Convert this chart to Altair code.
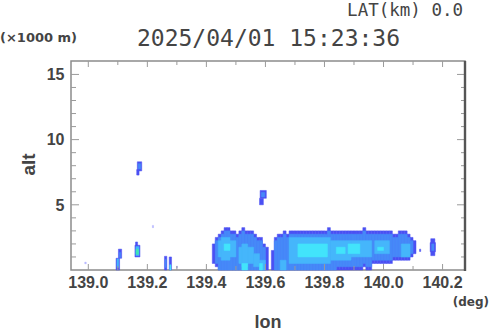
import altair as alt
import pandas as pd

# ---------------- data ----------------
# Blob A (left echo), one column every 0.01 deg: outer band and inner band
A_lon = [139.42, 139.43, 139.44, 139.45, 139.46, 139.47, 139.48, 139.49, 139.50, 139.51,
         139.52, 139.53, 139.54, 139.55, 139.56, 139.57, 139.58, 139.59, 139.60]
A_top = [2.0, 2.5, 2.75, 3.0, 3.25, 3.25, 3.0, 3.0, 2.75, 3.0,
         3.25, 3.0, 3.0, 3.0, 2.75, 2.5, 2.5, 2.0, 1.75]
A_bot = [0.5, 0.25, 0, 0, 0, 0, 0, 0, 0, 0,
         0, 0, 0, 0, 0, 0, 0, 0, 0]
A_in_top = [0.5, 2.25, 2.5, 2.75, 3.0, 3.0, 2.75, 2.75, 2.5, 2.75,
            3.0, 2.75, 2.75, 2.75, 2.5, 2.25, 2.25, 1.75, 0]
A_in_bot = [0.5, 0.5, 0, 0, 0, 0, 0, 0, 0, 0,
            0, 0, 0, 0, 0, 0, 0, 0, 0]

# Blob B (long echo) 139.62 .. 140.10
B_lon = [139.62, 139.63, 139.64, 139.65, 139.66, 139.67, 139.68, 139.69, 139.70, 139.71,
         139.72, 139.73, 139.74, 139.75, 139.76, 139.77, 139.78, 139.79, 139.80, 139.81,
         139.82, 139.83, 139.84, 139.85, 139.86, 139.87, 139.88, 139.89, 139.90, 139.91,
         139.92, 139.93, 139.94, 139.95, 139.96, 139.97, 139.98, 139.99, 140.00, 140.01,
         140.02, 140.03, 140.04, 140.05, 140.06, 140.07, 140.08, 140.09, 140.10]
B_top = [1.5, 2.5, 2.75, 2.75, 3.0, 2.75, 3.0, 3.0, 3.0, 3.0,
         3.0, 3.0, 3.0, 3.0, 3.0, 3.0, 3.0, 3.0, 3.0, 3.25,
         3.0, 3.0, 3.0, 3.0, 3.0, 3.0, 3.0, 3.0, 3.0, 3.0,
         3.0, 3.25, 3.0, 3.0, 3.0, 3.0, 3.0, 3.0, 3.0, 3.0,
         3.0, 2.75, 2.75, 3.0, 3.0, 3.0, 2.75, 2.5, 2.25]
B_bot = [0, 0, 0, 0, 0, 0, 0, 0, 0, 0,
         0, 0, 0, 0, 0, 0, 0, 0, 0, 0,
         0, 0, 0, 0, 0, 0, 0, 0, 0, 0,
         0, 0.25, 0, 0, 0.5, 0.5, 0.5, 0.5, 0.5, 0.5,
         0.5, 0.75, 0.75, 0.75, 0.75, 0.75, 0.75, 1.0, 1.25]
B_in_top = [0, 2.25, 2.5, 2.5, 2.75, 2.5, 2.75, 2.75, 2.75, 2.75,
            2.75, 2.75, 2.75, 2.75, 2.75, 2.75, 2.75, 2.75, 2.75, 3.0,
            2.75, 2.75, 2.75, 2.75, 2.75, 2.75, 2.75, 2.75, 2.75, 2.75,
            2.75, 3.0, 2.75, 2.75, 2.75, 2.75, 2.75, 2.75, 2.75, 2.75,
            2.75, 2.5, 2.5, 2.75, 2.75, 2.75, 2.5, 2.25, 0]
B_in_bot = [0, 0, 0, 0, 0, 0, 0, 0, 0, 0,
            0, 0, 0, 0, 0, 0, 0, 0, 0, 0,
            0, 0, 0.25, 0.25, 0.25, 0.25, 0.25, 0.25, 0.25, 0.25,
            0.25, 0.5, 0.25, 0.25, 0.75, 0.75, 0.75, 0.75, 0.75, 0.75,
            0.75, 1.0, 1.0, 1.0, 1.0, 1.0, 1.0, 1.25, 0]

# Stronger-echo patches and isolated small echoes: lon0, lon1, alt0, alt1, level
P_lon0 = [139.44, 139.45, 139.46, 139.51, 139.52, 139.52, 139.56, 139.58, 139.58,
          139.65, 139.68, 139.82, 139.89, 139.97, 140.06,
          139.71, 139.84, 139.88, 139.98,
          140.160, 140.158, 140.163, 140.122,
          139.582, 139.580, 139.586,
          139.166, 139.164, 139.169,
          139.160, 139.158, 139.161, 139.162,
          139.102, 139.094, 139.105, 139.097,
          139.258, 139.260, 139.274, 139.276,
          139.217, 138.988, 139.299]
P_lon1 = [139.50, 139.48, 139.48, 139.56, 139.54, 139.54, 139.58, 139.60, 139.59,
          139.67, 139.82, 139.89, 139.96, 140.02, 140.09,
          139.81, 139.87, 139.92, 140.00,
          140.174, 140.176, 140.171, 140.126,
          139.603, 139.593, 139.598,
          139.181, 139.172, 139.178,
          139.167, 139.175, 139.172, 139.170,
          139.113, 139.106, 139.110, 139.103,
          139.266, 139.264, 139.282, 139.280,
          139.221, 138.993, 139.302]
P_alt0 = [1.0, 0.75, 1.5, 0.5, 0.25, 0.0, 0.25, 0.0, 0.0,
          0.0, 0.5, 0.75, 1.0, 1.25, 1.0,
          1.0, 1.25, 1.25, 1.5,
          1.1, 1.4, 1.5, 1.42,
          5.5, 5.0, 5.6,
          7.6, 7.28, 7.75,
          1.85, 1.0, 1.1, 1.2,
          0.9, 0.0, 0.95, 0.2,
          0.0, 0.2, 0.0, 0.0,
          3.25, 0.48, 0.15]
P_alt1 = [2.25, 2.5, 2.0, 1.75, 2.0, 0.5, 1.25, 0.75, 0.5,
          0.75, 2.5, 2.25, 2.25, 2.25, 2.0,
          2.0, 1.75, 2.0, 1.75,
          2.4, 2.1, 2.0, 1.6,
          6.1, 5.5, 5.95,
          8.3, 7.7, 8.15,
          2.15, 1.9, 1.8, 1.6,
          1.6, 0.9, 1.35, 0.85,
          1.05, 0.8, 1.0, 0.4,
          3.42, 0.6, 0.3]
P_level = [3, 3, 4, 3, 3, 4, 3, 3, 4,
           3, 3, 3, 3, 3, 3,
           4, 4, 4, 4,
           1, 1, 2, 1,
           1, 1, 2,
           1, 1, 2,
           1, 1, 3, 5,
           1, 1, 2, 3,
           1, 2, 1, 4,
           0, 0, 0]

level_colors = ["#b4b4ff", "#4b50f3", "#4689f8", "#45b6fb", "#42e4fb", "#3fe8b0"]

x_major = [139.0, 139.2, 139.4, 139.6, 139.8, 140.0, 140.2]
x_minor = [139.1, 139.3, 139.5, 139.7, 139.9, 140.1]
y_major = [5, 10, 15]
y_minor = [1, 2, 3, 4, 6, 7, 8, 9, 11, 12, 13, 14]

title_text = "2025/04/01 15:23:36"
lat_text = "LAT(km) 0.0"
unit_y_text = "(×1000 m)"
unit_x_text = "(deg)"
x_title = "lon"
y_title = "alt"

# ---------------- build the cell table ----------------
rows = []
for lon, b, t in zip(A_lon, A_bot, A_top):
    rows.append((lon, lon + 0.01, b, t, 1))
for lon, b, t in zip(B_lon, B_bot, B_top):
    rows.append((lon, lon + 0.01, b, t, 1))
for lon, b, t in zip(A_lon, A_in_bot, A_in_top):
    if t > b:
        rows.append((lon, lon + 0.01, b, t, 2))
for lon, b, t in zip(B_lon, B_in_bot, B_in_top):
    if t > b:
        rows.append((lon, lon + 0.01, b, t, 2))
for r in zip(P_lon0, P_lon1, P_alt0, P_alt1, P_level):
    rows.append(r)
cells = pd.DataFrame(rows, columns=["lon", "lon2", "alt", "alt2", "lvl"])
cells["order"] = range(len(cells))

W, H = 394, 209
OX, OY = 71, 61
xscale = alt.Scale(domain=[138.9414, 140.276], nice=False, zero=False)
yscale = alt.Scale(domain=[0, 16.03], nice=False, zero=False)
cscale = alt.Scale(domain=[0, 1, 2, 3, 4, 5], range=level_colors)

LABEL_FONT = "Liberation Sans"
GRAY = "#444444"

echo = alt.Chart(cells).mark_rect(strokeWidth=0.5).encode(
    x=alt.X("lon:Q", scale=xscale, axis=None),
    x2="lon2:Q",
    y=alt.Y("alt:Q", scale=yscale, axis=None),
    y2="alt2:Q",
    color=alt.Color("lvl:O", scale=cscale, legend=None),
    stroke=alt.Stroke("lvl:O", scale=cscale, legend=None),
    order=alt.Order("order:Q"),
)

TICK = "#9a9a9a"

def xticks(vals, y0, y1):
    return alt.Chart(pd.DataFrame({"v": vals})).mark_rule(color=TICK, strokeWidth=1).encode(
        x=alt.X("v:Q", scale=xscale, axis=None), y=alt.value(y0), y2=alt.value(y1))

def yticks(vals, x0, x1):
    return alt.Chart(pd.DataFrame({"v": vals})).mark_rule(color=TICK, strokeWidth=1).encode(
        y=alt.Y("v:Q", scale=yscale, axis=None), x=alt.value(x0), x2=alt.value(x1))

ticks = [
    xticks(x_major, H, H - 6), xticks(x_minor, H, H - 4),
    xticks(x_major, 0, 6), xticks(x_minor, 0, 4),
    yticks(y_major, 0, 8), yticks(y_minor, 0, 5),
    yticks(y_major, W, W - 8), yticks(y_minor, W, W - 4),
]

xlabels = alt.Chart(pd.DataFrame({"v": x_major})).mark_text(
    font=LABEL_FONT, fontSize=16, fontWeight="bold", color=GRAY, align="center", baseline="alphabetic"
).encode(x=alt.X("v:Q", scale=xscale, axis=None), y=alt.value(H + 18.3),
         text=alt.Text("v:Q", format=".1f"))

ylabels = alt.Chart(pd.DataFrame({"v": y_major})).mark_text(
    font=LABEL_FONT, fontSize=16, fontWeight="bold", color=GRAY, align="right", baseline="alphabetic", dy=5.7
).encode(y=alt.Y("v:Q", scale=yscale, axis=None), x=alt.value(-6.5),
         text=alt.Text("v:Q", format="d"))

right_edge = alt.Chart(pd.DataFrame({"a": [0]})).mark_rule(color="#555555", strokeWidth=2.4).encode(
    x=alt.value(W), y=alt.value(0), y2=alt.value(H + 1))

def label(text, x, y, size, weight="normal", font=LABEL_FONT, align="center", angle=0, baseline="alphabetic"):
    kw = dict(fontSize=size, fontWeight=weight, font=font, align=align, color=GRAY, baseline=baseline)
    if angle:
        kw["angle"] = angle
    return alt.Chart(pd.DataFrame({"t": [text]})).mark_text(**kw).encode(
        text="t:N", x=alt.value(x), y=alt.value(y))

texts = [
    label(title_text, 268.5 - OX, 46 - OY, 23, font="DejaVu Sans Mono"),
    label(lat_text, 463 - OX, 15.5 - OY, 17.5, font="DejaVu Sans Mono", align="right"),
    label(unit_y_text, 0 - OX, 42 - OY, 13, weight="bold", font="DejaVu Sans", align="left"),
    label(unit_x_text, 489 - OX, 306 - OY, 12, weight="bold", font="DejaVu Sans", align="right"),
    label(x_title, 268 - OX, 327.5 - OY, 18, weight="bold"),
    label(y_title, 29 - OX, 164.5 - OY, 19, weight="bold", angle=270, baseline="middle"),
]

chart = alt.layer(echo, *ticks, right_edge, xlabels, ylabels, *texts).properties(
    width=W, height=H,
    autosize=alt.AutoSizeParams(type="none"),
    padding={"left": OX, "top": OY, "right": 490 - OX - W, "bottom": 331 - OY - H},
    background="white",
).configure_view(stroke="#8c8c8c", strokeWidth=1.5)

chart.save("out.html", embed_options={"renderer": "svg", "actions": False})
